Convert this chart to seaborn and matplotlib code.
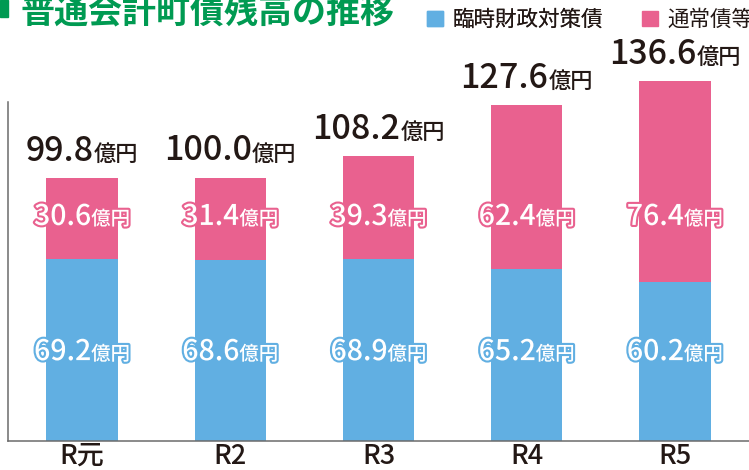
import matplotlib
matplotlib.use('Agg')
import pandas as pd
import matplotlib.pyplot as plt
import seaborn as sns
from matplotlib.patches import Patch, Rectangle
from matplotlib import patheffects as pe
from matplotlib.transforms import offset_copy

# data (億円)
years = ['R元', 'R2', 'R3', 'R4', 'R5']
rinji = [69.2, 68.6, 68.9, 65.2, 60.2]   # 臨時財政対策債
tsujo = [30.6, 31.4, 39.3, 62.4, 76.4]   # 通常債等

BLUE = '#61afe2'
PINK = '#e9618f'
GREEN = '#009a52'
DARK = '#231815'
GRAY = '#6b6b6b'

sns.set_style('white')
plt.rcParams['font.family'] = ['Noto Sans CJK JP', 'DejaVu Sans']

df = pd.DataFrame({'year': years, 'rinji': rinji, 'tsujo': tsujo})
df['total'] = df['rinji'] + df['tsujo']

fig = plt.figure(figsize=(7.49, 4.70), dpi=100)
ax = fig.add_axes([8 / 749, 29 / 470, 741 / 749, 441 / 470])

# stacked bars: total in pink, blue drawn over the bottom part
sns.barplot(data=df, x='year', y='total', color=PINK, width=0.483,
            saturation=1, linewidth=0, ax=ax)
sns.barplot(data=df, x='year', y='rinji', color=BLUE, width=0.483,
            saturation=1, linewidth=0, ax=ax)

ax.set_xlim(-0.5, -0.5 + 741 / 149)
ax.set_ylim(0, 441 / 2.635)
ax.set_xlabel('')
ax.set_ylabel('')
ax.set_yticks([])

ax.set_xticks([0.5, 1.5, 2.5, 3.5, 4.5], minor=True)
ax.tick_params(axis='x', which='minor', direction='in', length=5,
               width=1.1, color=GRAY)
ax.tick_params(axis='x', which='major', length=0, pad=1.5,
               labelsize=19.5, labelcolor=DARK)
for lab in ax.get_xticklabels():
    lab.set_fontweight('medium')

for s in ['top', 'right']:
    ax.spines[s].set_visible(False)
for s in ['left', 'bottom']:
    ax.spines[s].set_color(GRAY)
    ax.spines[s].set_linewidth(1.1)
ax.spines['left'].set_bounds(0, 128.6)

renderer = fig.canvas.get_renderer()


# number + smaller 億円, centred on x
def two_part(x, y, dy, num, unit, nsize, usize, color, stroke=None):
    kw = dict(color=color, ha='left', va='baseline', fontweight='medium')
    t1 = ax.text(x, y, num, fontsize=nsize, **kw)
    t2 = ax.text(x, y, unit, fontsize=usize, **kw)
    if stroke:
        for t in (t1, t2):
            t.set_path_effects([pe.Stroke(linewidth=3, foreground=stroke), pe.Normal()])
    w1 = t1.get_window_extent(renderer).width
    w2 = t2.get_window_extent(renderer).width
    half = (w1 + w2) / 2
    t1.set_transform(offset_copy(ax.transData, fig=fig, x=-half, y=dy, units='dots'))
    t2.set_transform(offset_copy(ax.transData, fig=fig, x=-half + w1, y=dy, units='dots'))


for i, row in df.iterrows():
    two_part(i, row['total'], 17, f"{row['total']:.1f}", '億円', 24.5, 16, DARK)
    two_part(i, 82, 0, f"{row['tsujo']:.1f}", '億円', 20.5, 14, 'white', PINK)
    two_part(i, 30.7, 0, f"{row['rinji']:.1f}", '億円', 20.5, 14, 'white', BLUE)

# title (cut at top edge as in the source)
fig.patches.append(Rectangle((0, 1 - 17 / 470), 8 / 749, 17 / 470,
                             transform=fig.transFigure, color=GREEN))
fig.text(20 / 749, 1 - 12 / 470, '普通会計町債残高の推移', fontsize=24.5,
         weight='bold', color=GREEN, ha='left', va='center')

# legend: one entry per box so each sits where the source has it
leg_kw = dict(loc='center left', frameon=False, fontsize=15.5, handlelength=0.75,
              handleheight=0.75, handletextpad=0.45, borderpad=0, borderaxespad=0,
              labelcolor=DARK)
leg1 = fig.legend(handles=[Patch(color=BLUE, label='臨時財政対策債')],
                  bbox_to_anchor=(427 / 749, 1 - 20 / 470), **leg_kw)
fig.legend(handles=[Patch(color=PINK, label='通常債等')],
           bbox_to_anchor=(642 / 749, 1 - 20 / 470), **leg_kw)
fig.add_artist(leg1)

fig.savefig('out.png', dpi=100)
